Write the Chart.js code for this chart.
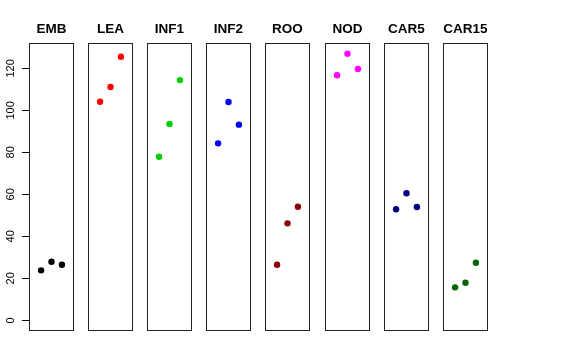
<!DOCTYPE html>
<html>
<head>
<meta charset="utf-8">
<script src="https://cdn.jsdelivr.net/npm/chart.js@4/dist/chart.umd.min.js"></script>
<style>
body { margin:0; background:#fff; }
#wrap { position:relative; width:576px; height:360px; }
#wrap canvas { position:absolute; top:0; }
</style>
</head>
<body>
<div id="wrap"></div>
<script>
// groups, one panel each
const groups = ['EMB', 'LEA', 'INF1', 'INF2', 'ROO', 'NOD', 'CAR5', 'CAR15']
const colors = ['#000000', '#ff0000', '#00cd00', '#0000ff', '#8b0000', '#ff00ff', '#000080', '#006400']
const reps = [1, 2, 3]

const emb = [23.8, 27.9, 26.5]
const lea = [104.1, 111.1, 125.5]
const inf1 = [77.9, 93.5, 114.4]
const inf2 = [84.3, 104.0, 93.2]
const roo = [26.5, 46.2, 54.1]
const nod = [116.7, 127.0, 119.7]
const car5 = [52.9, 60.5, 54.0]
const car15 = [15.7, 17.9, 27.4]
const series = [emb, lea, inf1, inf2, roo, nod, car5, car15]

const yTicks = [0, 20, 40, 60, 80, 100, 120]
const yMin = -5.08, yMax = 132.08
const xMin = -0.16, xMax = 4.16

const FONT = "'Liberation Sans', Arial, Helvetica, sans-serif"
const AXIS_W = 29
const BOX_W = 45
const PAD = 4

const boxPlugin = {
	id:'box',
	beforeDatasetsDraw(chart){
		const { ctx, chartArea:a } = chart
		ctx.save()
		ctx.strokeStyle = '#222'
		ctx.lineWidth = 1
		ctx.strokeRect(Math.round(a.left) + 0.5, Math.round(a.top) + 0.5, Math.round(a.right - a.left) - 1, Math.round(a.bottom - a.top) - 1)
		ctx.restore()
	}
}

const wrap = document.getElementById('wrap')

groups.forEach((name, i) => {
	const first = i === 0
	const boxLeft = Math.round(AXIS_W + i * 59.14 - 0.2)
	const canvas = document.createElement('canvas')
	const w = first ? AXIS_W + BOX_W + PAD : BOX_W + 2 * PAD
	canvas.width = w
	canvas.height = 360
	canvas.style.width = w + 'px'
	canvas.style.height = '360px'
	canvas.style.left = (first ? 0 : boxLeft - PAD) + 'px'
	wrap.appendChild(canvas)

	new Chart(canvas, {
		type:'scatter',
		data:{
			datasets:[
				{
					label:name,
					data:reps.map((x, j) => ({ x, y:series[i][j] })),
					backgroundColor:colors[i],
					borderColor:colors[i],
					pointRadius:3.2,
					pointHoverRadius:3.2,
					borderWidth:0
				}
			]
		},
		options:{
			responsive:false,
			animation:false,
			events:[],
			layout:{ autoPadding:false, padding:{ left:first ? 0 : PAD, right:PAD, top:0, bottom:29 } },
			plugins:{
				legend:{ display:false },
				tooltip:{ enabled:false },
				title:{
					display:true,
					text:name,
					fullSize:false,
					color:'#000',
					font:{ family:FONT, size:13.5, weight:'bold', lineHeight:'16px' },
					padding:{ top:21, bottom:6 }
				}
			},
			scales:{
				x:{ type:'linear', min:xMin, max:xMax, display:false },
				y:{
					type:'linear',
					min:yMin,
					max:yMax,
					display:first,
					afterFit: s => { if(first) s.width = AXIS_W },
					afterBuildTicks: s => { s.ticks = yTicks.map(v => ({ value:v })) },
					border:{ display:false },
					grid:{ drawOnChartArea:false, drawTicks:true, tickLength:7, color:'#000', lineWidth:1 },
					ticks:{
						autoSkip:false,
						minRotation:90,
						maxRotation:90,
						crossAlign:'center',
						padding:2,
						color:'#000',
						font:{ family:FONT, size:11 }
					}
				}
			}
		},
		plugins:[boxPlugin]
	})
})
</script>
</body>
</html>
